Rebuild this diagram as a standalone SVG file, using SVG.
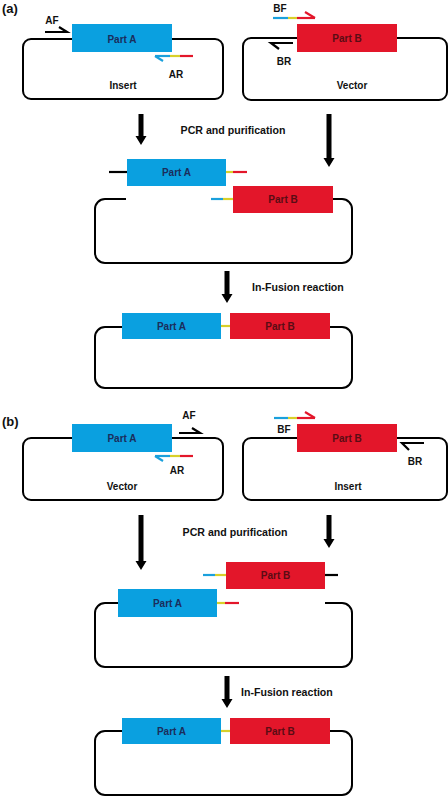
<svg xmlns="http://www.w3.org/2000/svg" width="448" height="798" viewBox="0 0 448 798">
<style>
text{font-family:"Liberation Sans",Arial,sans-serif;font-weight:bold;font-size:10px;fill:#111}
.lbl{font-size:13px}
.st{font-size:10.6px}
.c{text-anchor:middle}
.ta{fill:#1b2d5c}
.tb{fill:#5a0c14}
.box{fill:none;stroke:#000;stroke-width:2}
.pa{fill:#0aa0e0}
.pb{fill:#e3162a}
.k{stroke:#000;stroke-width:2.2;fill:none}
.bl{stroke:#1aa0dc;stroke-width:2.2;fill:none}
.ye{stroke:#d8d02a;stroke-width:2.2;fill:none}
.rd{stroke:#e3162a;stroke-width:2.2;fill:none}
.arr{fill:#000}
</style>
<rect width="448" height="798" fill="#fff"/>
<text class="lbl" x="2" y="13">(a)</text>
<text class="lbl" x="2" y="426">(b)</text>

<g id="a-insert">
<rect class="box" x="23" y="39" width="200" height="60" rx="8"/>
<rect class="pa" x="72" y="24" width="100" height="28"/>
<text class="c ta" x="122" y="42.5">Part A</text>
<polyline class="k" points="45,32 67,32 59,27"/>
<text class="c" x="52" y="24">AF</text>
<line class="bl" x1="155" y1="56" x2="170" y2="56"/><line class="ye" x1="170" y1="56" x2="180" y2="56"/><line class="rd" x1="180" y1="56" x2="193" y2="56"/>
<line class="bl" x1="155" y1="56" x2="163" y2="61"/>
<text class="c" x="176" y="78">AR</text>
<text class="c" x="123" y="89">Insert</text>
</g>

<g id="a-vector">
<rect class="box" x="243" y="38" width="204" height="62" rx="8"/>
<rect class="pb" x="297" y="24" width="100" height="28"/>
<text class="c tb" x="347" y="41.5">Part B</text>
<line class="bl" x1="273" y1="18" x2="288" y2="18"/><line class="ye" x1="288" y1="18" x2="297" y2="18"/><line class="rd" x1="297" y1="18" x2="315" y2="18"/>
<line class="rd" x1="315" y1="18" x2="305" y2="12"/>
<text class="c" x="280" y="12">BF</text>
<polyline class="k" points="293,43 271,43 279,49"/>
<text class="c" x="284" y="65">BR</text>
<text class="c" x="352" y="89">Vector</text>
</g>

<g id="a-pcr">
<path class="box" d="M126,199 H105 A10,10 0 0 0 95,209 V253 A10,10 0 0 0 105,263 H342 A10,10 0 0 0 352,253 V209 A10,10 0 0 0 342,199 H333"/>
<rect class="pa" x="127" y="159" width="99" height="27"/>
<text class="c ta" x="176.5" y="175.5">Part A</text>
<line class="k" x1="109" y1="172" x2="127" y2="172"/>
<line class="ye" x1="226" y1="172" x2="233" y2="172"/><line class="rd" x1="233" y1="172" x2="247" y2="172"/>
<rect class="pb" x="233" y="186" width="100" height="27"/>
<text class="c tb" x="283" y="202.5">Part B</text>
<line class="bl" x1="211" y1="199" x2="223" y2="199"/><line class="ye" x1="223" y1="199" x2="233" y2="199"/>
</g>

<g id="a-fusion">
<path class="box" d="M122,327 H105 A10,10 0 0 0 95,337 V378 A10,10 0 0 0 105,388 H342 A10,10 0 0 0 352,378 V337 A10,10 0 0 0 342,327 H330"/>
<line class="ye" x1="221" y1="326" x2="230" y2="326"/>
<rect class="pa" x="122" y="313" width="99" height="26"/>
<text class="c ta" x="171.5" y="329.5">Part A</text>
<rect class="pb" x="230" y="313" width="100" height="26"/>
<text class="c tb" x="280" y="329.5">Part B</text>
</g>

<g id="b-vector">
<rect class="box" x="23" y="438" width="200" height="62" rx="8"/>
<rect class="pa" x="72" y="424" width="100" height="28"/>
<text class="c ta" x="122" y="441.5">Part A</text>
<polyline class="k" points="179,433 200,433 192,428"/>
<text class="c" x="189" y="419">AF</text>
<line class="bl" x1="155" y1="456" x2="170" y2="456"/><line class="ye" x1="170" y1="456" x2="180" y2="456"/><line class="rd" x1="180" y1="456" x2="193" y2="456"/>
<line class="bl" x1="155" y1="456" x2="163" y2="461"/>
<text class="c" x="177" y="474">AR</text>
<text class="c" x="122" y="490">Vector</text>
</g>

<g id="b-insert">
<rect class="box" x="243" y="438" width="204" height="62" rx="8"/>
<rect class="pb" x="297" y="424" width="100" height="28"/>
<text class="c tb" x="347" y="441.5">Part B</text>
<line class="bl" x1="274" y1="418" x2="288" y2="418"/><line class="ye" x1="288" y1="418" x2="297" y2="418"/><line class="rd" x1="297" y1="418" x2="315" y2="418"/>
<line class="rd" x1="315" y1="418" x2="305" y2="412"/>
<text class="c" x="284" y="432.5">BF</text>
<polyline class="k" points="424,443 402,443 409,450"/>
<text class="c" x="415" y="465">BR</text>
<text class="c" x="348" y="490">Insert</text>
</g>

<g id="b-pcr">
<path class="box" d="M118,603 H105 A10,10 0 0 0 95,613 V657 A10,10 0 0 0 105,667 H342 A10,10 0 0 0 352,657 V613 A10,10 0 0 0 342,603 H325"/>
<rect class="pb" x="226" y="562" width="99" height="27"/>
<text class="c tb" x="275.5" y="579">Part B</text>
<line class="bl" x1="203" y1="575" x2="215" y2="575"/><line class="ye" x1="215" y1="575" x2="226" y2="575"/>
<line class="k" x1="325" y1="575" x2="338" y2="575"/>
<rect class="pa" x="118" y="589" width="99" height="28"/>
<text class="c ta" x="167.5" y="606.5">Part A</text>
<line class="ye" x1="217" y1="603" x2="225" y2="603"/><line class="rd" x1="225" y1="603" x2="239" y2="603"/>
</g>

<g id="b-fusion">
<path class="box" d="M122,731 H105 A10,10 0 0 0 95,741 V785 A10,10 0 0 0 105,795 H342 A10,10 0 0 0 352,785 V741 A10,10 0 0 0 342,731 H330"/>
<line class="ye" x1="221" y1="731" x2="230" y2="731"/>
<rect class="pa" x="122" y="718" width="99" height="26"/>
<text class="c ta" x="171.5" y="734.5">Part A</text>
<rect class="pb" x="230" y="718" width="100" height="26"/>
<text class="c tb" x="280" y="734.5">Part B</text>
</g>

<g id="connectors">
<polygon class="arr" points="138.5,114 143.5,114 143.5,136 146.5,136 141,145 135.5,136 138.5,136"/>
<polygon class="arr" points="326.5,114 331.5,114 331.5,158 334.5,158 329,167 323.5,158 326.5,158"/>
<polygon class="arr" points="224.5,271 229.5,271 229.5,294 232.5,294 227,303 221.5,294 224.5,294"/>
<polygon class="arr" points="138.5,515 143.5,515 143.5,561 146.5,561 141,570 135.5,561 138.5,561"/>
<polygon class="arr" points="326.5,515 331.5,515 331.5,539 334.5,539 329,548 323.5,539 326.5,539"/>
<polygon class="arr" points="224.5,676 229.5,676 229.5,699 232.5,699 227,708 221.5,699 224.5,699"/>
<text class="c st" x="233" y="134">PCR and purification</text>
<text class="st" x="252" y="291">In-Fusion reaction</text>
<text class="c st" x="235" y="536">PCR and purification</text>
<text class="st" x="241" y="696">In-Fusion reaction</text>
</g>
</svg>
